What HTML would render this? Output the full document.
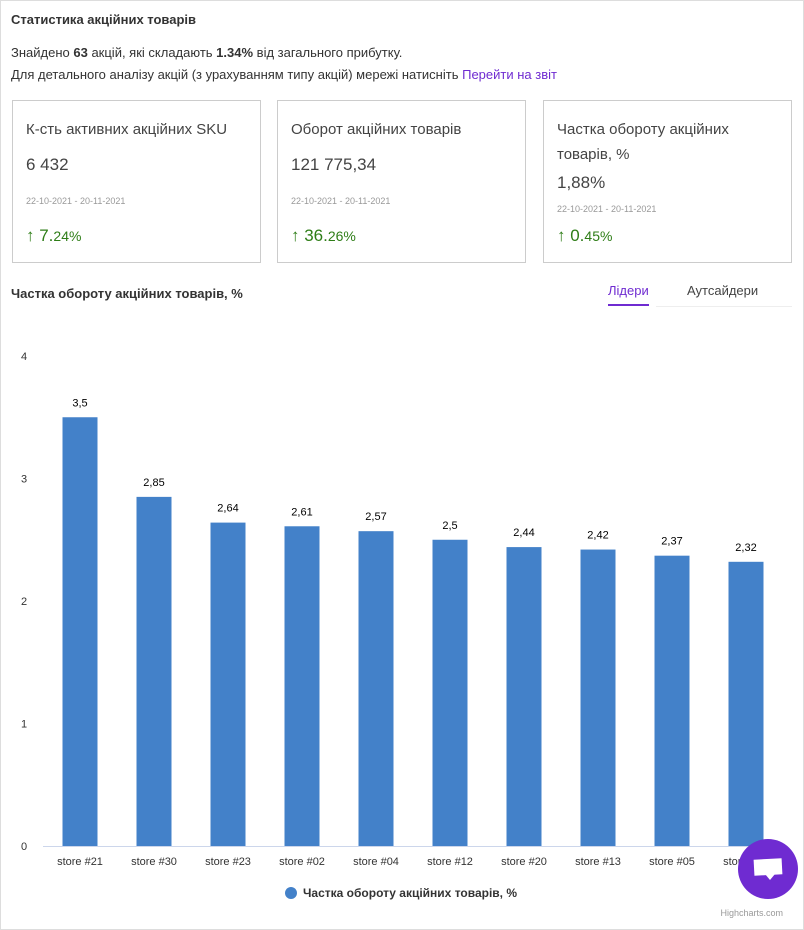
<!DOCTYPE html>
<html><head><meta charset="utf-8"><style>
body{margin:0;width:804px;height:930px;font-family:"Liberation Sans",sans-serif;background:#fff;overflow:hidden;position:relative;color:#333}
.frame{position:absolute;left:0;top:0;width:802px;height:928px;border:1px solid #ddd}
.abs{position:absolute}
.card{position:absolute;top:100px;width:247px;height:161px;border:1px solid #ccc}
.ct{position:absolute;left:13px;top:16px;font-size:15px;color:#444;line-height:25px}
.cv{position:absolute;left:13px;font-size:17px;color:#444}
.cd{position:absolute;left:13px;font-size:9px;color:#999}
.cp{position:absolute;left:13px;font-size:17px;color:#2e7d17}
</style></head><body>
<div class="frame"></div>
<div class="abs" style="left:11px;top:12px;font-size:13px;font-weight:bold">Статистика акційних товарів</div>
<div class="abs" style="left:11px;top:45px;font-size:13px">Знайдено <b>63</b> акцій, які складають <b>1.34%</b> від загального прибутку.</div>
<div class="abs" style="left:11px;top:67px;font-size:13px">Для детального аналізу акцій (з урахуванням типу акцій) мережі натисніть <span style="color:#6f2bd1">Перейти на звіт</span></div>

<div class="card" style="left:12px">
<div class="ct">К-сть активних акційних SKU</div><div class="cv" style="top:54px">6 432</div>
<div class="cd" style="top:95px">22-10-2021 - 20-11-2021</div><div class="cp" style="top:125px">↑ 7.<span style="font-size:14px">24%</span></div></div>
<div class="card" style="left:277px">
<div class="ct">Оборот акційних товарів</div><div class="cv" style="top:54px">121 775,34</div>
<div class="cd" style="top:95px">22-10-2021 - 20-11-2021</div><div class="cp" style="top:125px">↑ 36.<span style="font-size:14px">26%</span></div></div>
<div class="card" style="left:543px">
<div class="ct">Частка обороту акційних<br>товарів, %</div><div class="cv" style="top:72px">1,88%</div>
<div class="cd" style="top:103px">22-10-2021 - 20-11-2021</div><div class="cp" style="top:125px">↑ 0.<span style="font-size:14px">45%</span></div></div>

<div class="abs" style="left:11px;top:286px;font-size:13px;font-weight:bold">Частка обороту акційних товарів, %</div>
<div class="abs" style="left:608px;top:283px;font-size:13px;color:#6f2bd1;padding-bottom:6px;border-bottom:2px solid #6f2bd1">Лідери</div>
<div class="abs" style="left:687px;top:283px;font-size:13px;color:#444">Аутсайдери</div>
<div class="abs" style="left:656px;top:306px;width:136px;height:1px;background:#eee"></div>

<svg id="chart" class="abs" style="left:0;top:0" width="804" height="930"></svg>
<div class="abs" style="left:738px;top:839px;width:60px;height:60px;border-radius:50%;background:#6f2bd1">
<div style="position:absolute;left:16px;top:20px;width:28px;height:16px;background:#fff;transform:rotate(-3deg)"></div>
<div style="position:absolute;left:27px;top:35px;width:0;height:0;border-left:5px solid transparent;border-right:5px solid transparent;border-top:6px solid #fff"></div></div>
<script>
const categories=["store #21","store #30","store #23","store #02","store #04","store #12","store #20","store #13","store #05","store #17"];
const values=[3.5,2.85,2.64,2.61,2.57,2.5,2.44,2.42,2.37,2.32];
const labels=["3,5","2,85","2,64","2,61","2,57","2,5","2,44","2,42","2,37","2,32"];
const ticks=[0,1,2,3,4];
const NS="http://www.w3.org/2000/svg",svg=document.getElementById('chart');
const y=v=>846-v*122.5, x=i=>43+74*i+37;
function mk(t,a,txt){const e=document.createElementNS(NS,t);for(const k in a)e.setAttribute(k,a[k]);if(txt!=null)e.textContent=txt;svg.appendChild(e);return e;}
ticks.forEach(t=>{const e=mk('text',{x:24,y:y(t)+4,'text-anchor':'middle','font-size':11,fill:'#333','font-family':'Liberation Sans'},t);

});
mk('line',{x1:43,x2:783,y1:846.5,y2:846.5,stroke:'#ccd6eb'});
values.forEach((v,i)=>{
const r=mk('rect',{x:x(i)-17.5,y:y(v),width:35,height:846-y(v),fill:'#4381c9'});


const l=mk('text',{x:x(i),y:y(v)-11,'text-anchor':'middle','font-size':11,fill:'#000','font-family':'Liberation Sans'},labels[i]);


const c=mk('text',{x:x(i),y:865,'text-anchor':'middle','font-size':11,fill:'#333','font-family':'Liberation Sans'},categories[i]);

});
const lg=mk('circle',{cx:291,cy:893,r:6,fill:'#4381c9'});


const lt=mk('text',{x:303,y:897,'font-size':12,'font-weight':'bold',fill:'#333','font-family':'Liberation Sans'},'Частка обороту акційних товарів, %');


const cr=mk('text',{x:783,y:916,'text-anchor':'end','font-size':9,fill:'#999','font-family':'Liberation Sans'},'Highcharts.com');


</script>
</body></html>
